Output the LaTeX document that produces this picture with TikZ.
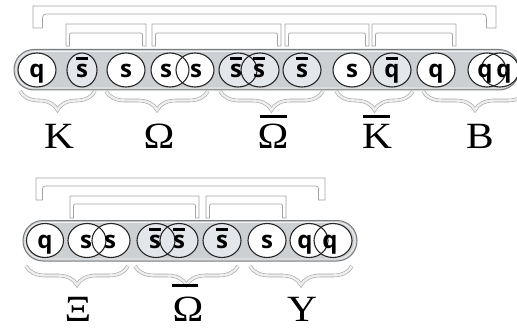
\documentclass[tikz,border=0pt]{standalone}
\usepackage{fontspec}
\usepackage{graphicx}
\setmainfont{Liberation Serif}
\newfontfamily\quarkfont{Open Sans}
\usetikzlibrary{decorations.pathreplacing,shapes.geometric}

\definecolor{tubefill}{HTML}{CDD0D3}
\definecolor{tubeedge}{HTML}{7A7C7E}
\definecolor{antifill}{HTML}{E3E7EC}
\definecolor{bandline}{HTML}{A3A3A3}
\definecolor{bandfill}{HTML}{FFFFFF}
\definecolor{bracefill}{HTML}{EEEEEE}

% outlined bracket linking two quarks: xl, xr, top, inner, bottom, leg width, corner radius
\newcommand\linkband[7]{%
  \filldraw[band] (#1,#5) -- (#1,#3) -- (#2,#3) -- (#2,#5) -- ({#2-#6},#5)
    -- ({#2-#6},{#4+#7}) .. controls ({#2-#6},#4) .. ({#2-#6-#7},#4)
    -- ({#1+#6+#7},#4) .. controls ({#1+#6},#4) .. ({#1+#6},{#4+#7})
    -- ({#1+#6},#5) -- cycle;}

% quark letter with optional antiquark bar
\newcommand\qletter[3]{\node[qtext] at (#1,#2) {#3};}
\newcommand\qbar[2]{\fill ({#1-6},{#2-20.5}) rectangle ({#1+6},{#2-17});}

\begin{document}
\begin{tikzpicture}[x=1pt,y=-1pt,
  tube/.style={fill=tubefill, draw=tubeedge, line width=1pt, rounded corners=20pt},
  tubeinner/.style={draw=white!75!tubefill, line width=0.8pt, rounded corners=18pt},
  qcirc/.style={ellipse, draw=black!85, line width=1.1pt, inner sep=0pt,
    minimum height=34pt},
  qtext/.style={anchor=base, inner sep=0pt,
    font=\quarkfont\bfseries\fontsize{24}{24}\selectfont},
  band/.style={draw=bandline, fill=bandfill, line width=0.7pt},
  bracestyle/.style={draw=bandline, double=bracefill, double distance=2.4pt,
    line width=0.6pt, decorate},
  lab/.style={anchor=base, inner sep=0pt,
    font=\fontsize{37}{37}\selectfont}]
\useasboundingbox (0,0) rectangle (517,329);

% ---------------- upper chain ----------------
\linkband{33}{496}{6}{14}{28}{9.5}{8}
\linkband{66}{146}{24}{33}{46}{3.5}{4}
\linkband{152}{281}{24}{33}{46}{3.5}{4}
\linkband{285}{369}{24}{33}{46}{3.5}{4}
\linkband{372}{456}{24}{33}{46}{3.5}{4}

\draw[tube] (14,49.5) rectangle (519,90);
\draw[tubeinner] (16,51.5) rectangle (517,88);

% circle fills, then outlines
\foreach \x/\rx/\c in {37/19/white, 82/15/antifill, 126/19/white,
    170/19/white, 195/19/white, 238/19/antifill, 260/19/antifill,
    302/19/antifill, 352/19/white, 392/19/antifill, 436/19/white,
    487/19/white, 500/19/white}
  \fill[\c] (\x,70) ellipse ({\rx} and 17);
\node[qcirc, minimum width=38pt] (aq) at (37,70) {};
\node[qcirc, minimum width=30pt] (asb) at (82,70) {};
\node[qcirc, minimum width=38pt] (as) at (126,70) {};
\node[qcirc, minimum width=38pt] (ass1) at (170,70) {};
\node[qcirc, minimum width=38pt] (ass2) at (195,70) {};
\node[qcirc, minimum width=38pt] (absb1) at (238,70) {};
\node[qcirc, minimum width=38pt] (absb2) at (260,70) {};
\node[qcirc, minimum width=38pt] (asb3) at (302,70) {};
\node[qcirc, minimum width=38pt] (as4) at (352,70) {};
\node[qcirc, minimum width=38pt] (aqb) at (392,70) {};
\node[qcirc, minimum width=38pt] (aq2) at (436,70) {};
\node[qcirc, minimum width=38pt] (aqq1) at (487,70) {};
\node[qcirc, minimum width=38pt] (aqq2) at (500,70) {};

\qletter{37}{77.5}{q}
\qletter{82}{77.5}{s}\qbar{82}{77.5}
\qletter{126}{77.5}{s}
\qletter{166}{77.5}{s}
\qletter{196}{77.5}{s}
\qletter{236}{77.5}{s}\qbar{236}{77.5}
\qletter{259}{77.5}{s}\qbar{259}{77.5}
\qletter{302}{77.5}{s}\qbar{302}{77.5}
\qletter{352}{77.5}{s}
\qletter{392}{77.5}{q}\qbar{392}{77.5}
\qletter{436}{77.5}{q}
\qletter{485}{77.5}{q}
\qletter{504}{77.5}{q}

% hadron braces and names
\draw[bracestyle, decoration={brace, mirror, amplitude=19pt}] (20,91) -- (95,91);
\draw[bracestyle, decoration={brace, mirror, amplitude=19pt}] (106,91) -- (208,91);
\draw[bracestyle, decoration={brace, mirror, amplitude=19pt}] (220,91) -- (323,91);
\draw[bracestyle, decoration={brace, mirror, amplitude=19pt}] (336,91) -- (413,91);
\draw[bracestyle, decoration={brace, mirror, amplitude=19pt}] (423,91) -- (527,91);

\node[lab] (lK) at (59,148) {\scalebox{1.12}[1]{K}};
\node[lab] (lO) at (159,148) {\scalebox{1.12}[1]{Ω}};
\node[lab] (lOb) at (273,148) {\scalebox{1.12}[1]{Ω}};
\node[lab] (lKb) at (377,148) {\scalebox{1.12}[1]{K}};
\node[lab] (lB) at (480,148) {\scalebox{1.12}[1]{B}};
\fill (260,115) rectangle (287,117.5);
\fill (363,115) rectangle (390,117.5);

% ---------------- lower chain ----------------
\linkband{36}{325}{178}{186}{200}{6.5}{6}
\linkband{70}{199}{196}{204}{218}{3.5}{4}
\linkband{206}{286}{196}{204}{218}{3.5}{4}

\draw[tube] (23,220.5) rectangle (357,261);
\draw[tubeinner] (25,222.5) rectangle (355,259);

\foreach \x/\c in {45/white, 87/white, 111/white, 156/antifill, 179/antifill,
    222/antifill, 267/white, 309/white, 333/white}
  \fill[\c] (\x,240.5) ellipse (19 and 17);
\node[qcirc, minimum width=37pt] (bq) at (45,240.5) {};
\node[qcirc, minimum width=38pt] (bss1) at (87,240.5) {};
\node[qcirc, minimum width=38pt] (bss2) at (111,240.5) {};
\node[qcirc, minimum width=38pt] (bsb1) at (156,240.5) {};
\node[qcirc, minimum width=38pt] (bsb2) at (179,240.5) {};
\node[qcirc, minimum width=38pt] (bsb3) at (222,240.5) {};
\node[qcirc, minimum width=38pt] (bs) at (267,240.5) {};
\node[qcirc, minimum width=38pt] (bqq1) at (309,240.5) {};
\node[qcirc, minimum width=38pt] (bqq2) at (333,240.5) {};

\qletter{45}{248}{q}
\qletter{86}{248}{s}
\qletter{110}{248}{s}
\qletter{155}{248}{s}\qbar{155}{248}
\qletter{179}{248}{s}\qbar{179}{248}
\qletter{222}{248}{s}\qbar{222}{248}
\qletter{267}{248}{s}
\qletter{305}{248}{q}
\qletter{330}{248}{q}

\draw[bracestyle, decoration={brace, mirror, amplitude=19pt}] (26,266) -- (128,266);
\draw[bracestyle, decoration={brace, mirror, amplitude=19pt}] (135,266) -- (238,266);
\draw[bracestyle, decoration={brace, mirror, amplitude=19pt}] (250,266) -- (352,266);

\node[lab] (lXi) at (78,321) {\scalebox{1.12}[1]{Ξ}};
\node[lab] (lOb2) at (188,321) {\scalebox{1.12}[1]{Ω}};
\node[lab] (lY) at (302,321) {\scalebox{1.12}[1]{Y}};
\fill (172,284) rectangle (198,286.5);
\end{tikzpicture}
\end{document}
